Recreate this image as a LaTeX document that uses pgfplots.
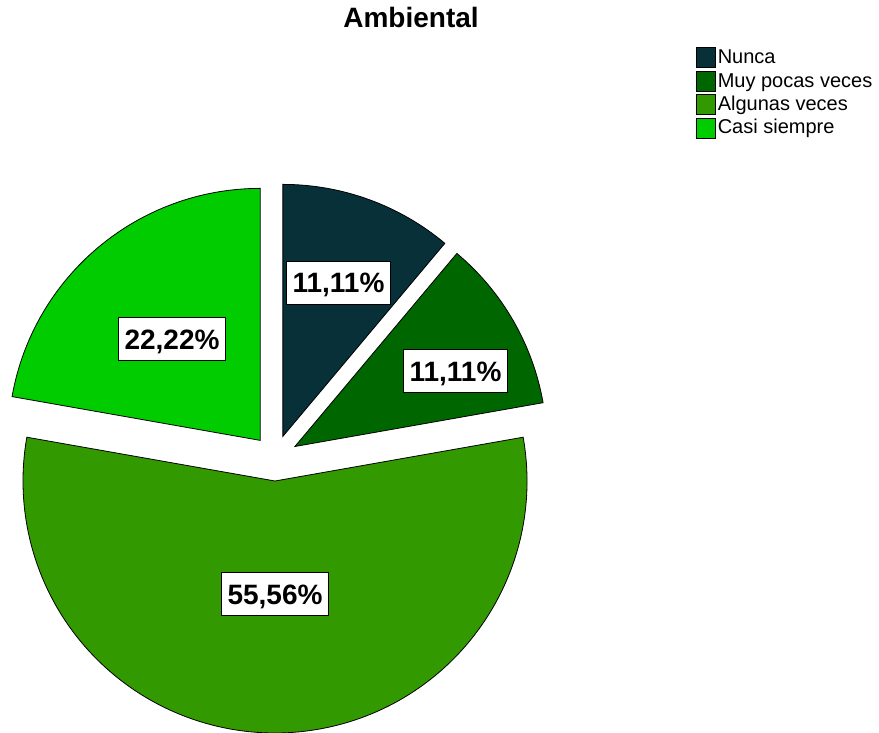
\documentclass[border=0pt]{standalone}
\usepackage{pgfplots}
\pgfplotsset{compat=1.18}
\usepackage{pgfplotstable}
\usetikzlibrary{calc}
\usepackage{fontspec}
\setmainfont{Liberation Sans}
\definecolor{cNunca}{RGB}{8,48,56}
\definecolor{cMuy}{RGB}{0,102,0}
\definecolor{cAlg}{RGB}{51,153,0}
\definecolor{cCasi}{RGB}{0,204,0}
\pgfplotstableread{
name value
Nunca 11.11
Muy 11.11
Algunas 55.56
Casi 22.22
}\piedata
\pgfplotstablegetelem{0}{value}\of\piedata \let\vA\pgfplotsretval
\pgfplotstablegetelem{1}{value}\of\piedata \let\vB\pgfplotsretval
\pgfplotstablegetelem{2}{value}\of\piedata \let\vC\pgfplotsretval
\pgfplotstablegetelem{3}{value}\of\piedata \let\vD\pgfplotsretval
\pgfmathsetmacro\aA{90}
\pgfmathsetmacro\aB{\aA-3.6*\vA}
\pgfmathsetmacro\aC{\aB-3.6*\vB}
\pgfmathsetmacro\aD{\aC-3.6*\vC}
\pgfmathsetmacro\aE{\aD-3.6*\vD}
\newcommand\slice[3]{%
  \fill[draw=black, line width=0.8bp, fill=#3]
    ($(axis cs:275,275)+({(#1+#2)/2}:23bp)$) -- ++(#1:252bp)
    arc[start angle=#1, end angle=#2, radius=252bp] -- cycle;}
\tikzset{pct/.style={draw=black, line width=0.8bp, fill=white,
  font=\fontsize{28bp}{30bp}\selectfont\bfseries,
  text height=20bp, text depth=0pt, inner ysep=11.5bp, inner xsep=6bp}}
\begin{document}%
\begin{tikzpicture}
\begin{axis}[
  at={(0,0)}, anchor=origin,
  hide axis, clip=false,
  x=1bp, y=1bp, xmin=0, xmax=879, ymin=0, ymax=733,
  legend image code/.code={\draw[#1, draw=black, line width=0.6bp] (0bp,-8bp) rectangle (19bp,12bp);},
  legend style={draw=none, fill=none, at={(axis cs:696,686)}, anchor=north west,
    font=\fontsize{20bp}{21bp}\selectfont, inner sep=0pt, row sep=0pt,
    column sep=2bp,
    nodes={inner sep=0pt, text height=15.3bp, text depth=7bp}},
  legend cell align=left,
]
\addlegendimage{fill=cNunca}
\addlegendentry{Nunca}
\addlegendimage{fill=cMuy}
\addlegendentry{Muy pocas veces}
\addlegendimage{fill=cAlg}
\addlegendentry{Algunas veces}
\addlegendimage{fill=cCasi}
\addlegendentry{Casi siempre}
\slice{\aA}{\aB}{cNunca}
\slice{\aB}{\aC}{cMuy}
\slice{\aC}{\aD}{cAlg}
\slice{\aD}{\aE}{cCasi}
\node[pct] at (axis cs:338.5,450.5) {11,11\%};
\node[pct] at (axis cs:455.5,362) {11,11\%};
\node[pct] at (axis cs:275,139) {55,56\%};
\node[pct] at (axis cs:172,394) {22,22\%};
\node[font=\fontsize{28bp}{29bp}\selectfont\bfseries, anchor=base] at (axis cs:411,705) {Ambiental};
\end{axis}
\pgfresetboundingbox
\useasboundingbox (0,0) rectangle (879bp,733bp);
\end{tikzpicture}%
\end{document}
